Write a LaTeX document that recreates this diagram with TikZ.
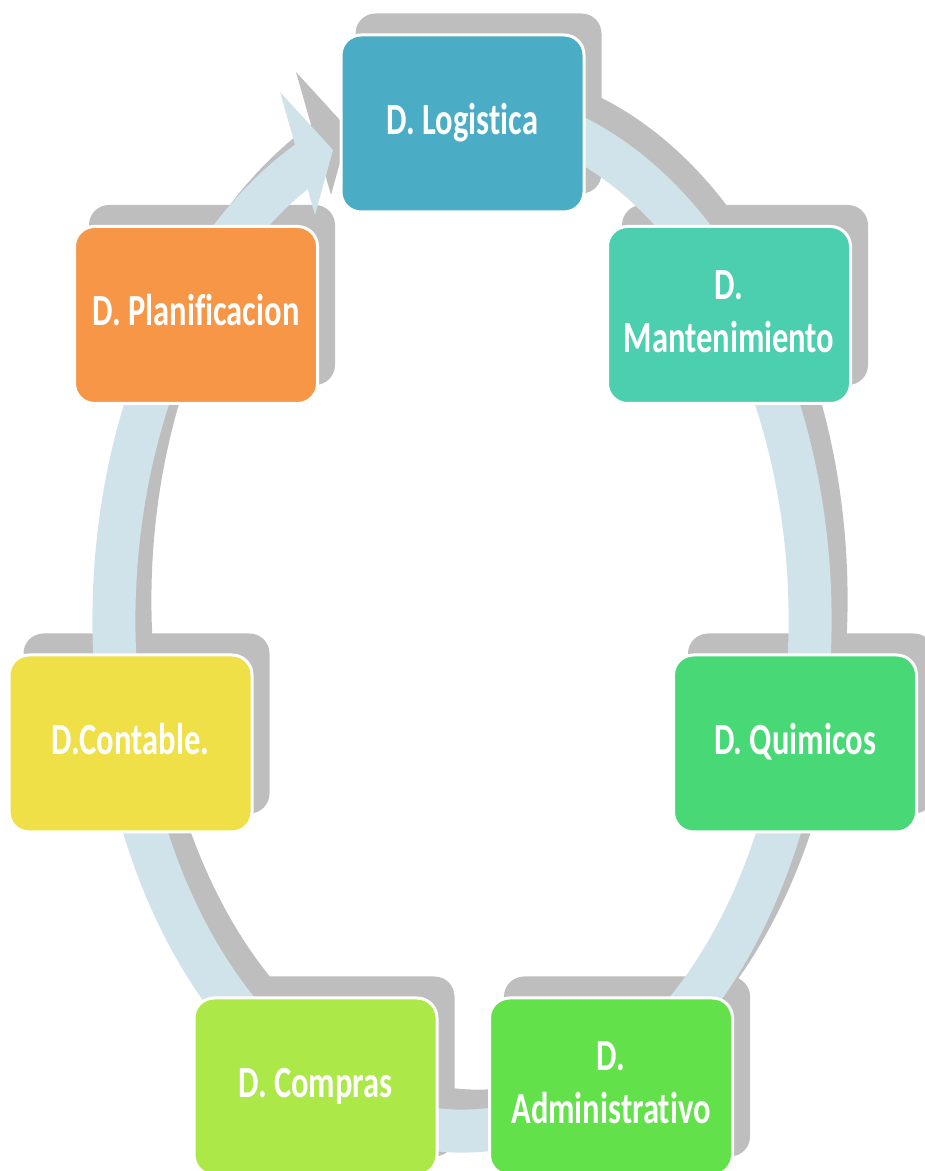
\documentclass[tikz,border=0pt]{standalone}
\usepackage{fontspec}
\setmainfont{Carlito}[Ligatures={NoCommon}]
\usetikzlibrary{positioning,arrows.meta,backgrounds}
\tikzset{>=latex}
\definecolor{logiblue}{RGB}{75,172,198}
\definecolor{mantgreen}{RGB}{75,207,174}
\definecolor{quimgreen}{RGB}{72,217,118}
\definecolor{admigreen}{RGB}{98,225,74}
\definecolor{compgreen}{RGB}{172,232,72}
\definecolor{contyellow}{RGB}{240,224,71}
\definecolor{planorange}{RGB}{247,150,70}
\definecolor{ringblue}{RGB}{208,227,234}
\definecolor{shadowgray}{RGB}{190,190,190}
\newcommand\depttext[1]{\scalebox{1}[1.37]{\begin{tabular}{@{}c@{}}#1\end{tabular}}}

\begin{document}
\begin{tikzpicture}[
  dept/.style={draw=white, line width=0.06cm, rounded corners=0.4cm, minimum width=4.86cm, minimum height=3.54cm, inner sep=0pt, text=white, font=\fontsize{18.5}{22}\selectfont\bfseries},
  ring/.style={line width=0.86cm}
]
\useasboundingbox (0,0) rectangle (18.48,23.42);
% departments, clockwise from the top
\node[dept, fill=logiblue] (logi) at (9.25,20.95) {\depttext{D. Logistica}};
\node[dept, fill=planorange] (plan) at (3.92,17.12) {\depttext{D. Planificacion}};
\node[dept, fill=mantgreen, right of=plan, node distance=10.66cm] (mant) {\depttext{D.\\Mantenimiento}};
\node[dept, fill=contyellow] (cont) at (2.61,8.55) {\depttext{D.Contable.}};
\node[dept, fill=quimgreen, right of=cont, node distance=13.29cm] (quim) {\depttext{D. Quimicos}};
\node[dept, fill=compgreen] (comp) at (6.31,1.69) {\depttext{D. Compras}};
\node[dept, fill=admigreen, right of=comp, node distance=5.91cm] (admi) {\depttext{D.\\Administrativo}};
% cycle arrow: centre and arrow head corners
\coordinate (ringc) at (9.24,11.02);
\coordinate (headl) at (5.6,21.58);
\coordinate (headt) at (6.66,20.42);
\coordinate (headr) at (6.3,19.12);
\begin{pgfonlayer}{background}
  \foreach \n in {logi,mant,quim,admi,comp,cont,plan}
    \fill[shadowgray, rounded corners=0.4cm] ([shift={(0.32,0.4)}]\n.south west) rectangle ([shift={(0.32,0.4)}]\n.north east);
  % shadow first, then the arrow itself
  \foreach \dx/\dy/\col in {0.32/0.4/shadowgray, 0/0/ringblue}{
    \draw[ring, \col] ([shift={(\dx,\dy)}]ringc) ++(75:6.96cm and 10.22cm) arc[start angle=75, end angle=-244, x radius=6.96cm, y radius=10.22cm];
    \fill[\col] ([shift={(\dx,\dy)}]headl) -- ([shift={(\dx,\dy)}]headt) -- ([shift={(\dx,\dy)}]headr) -- cycle;
  }
\end{pgfonlayer}
\end{tikzpicture}
\end{document}
